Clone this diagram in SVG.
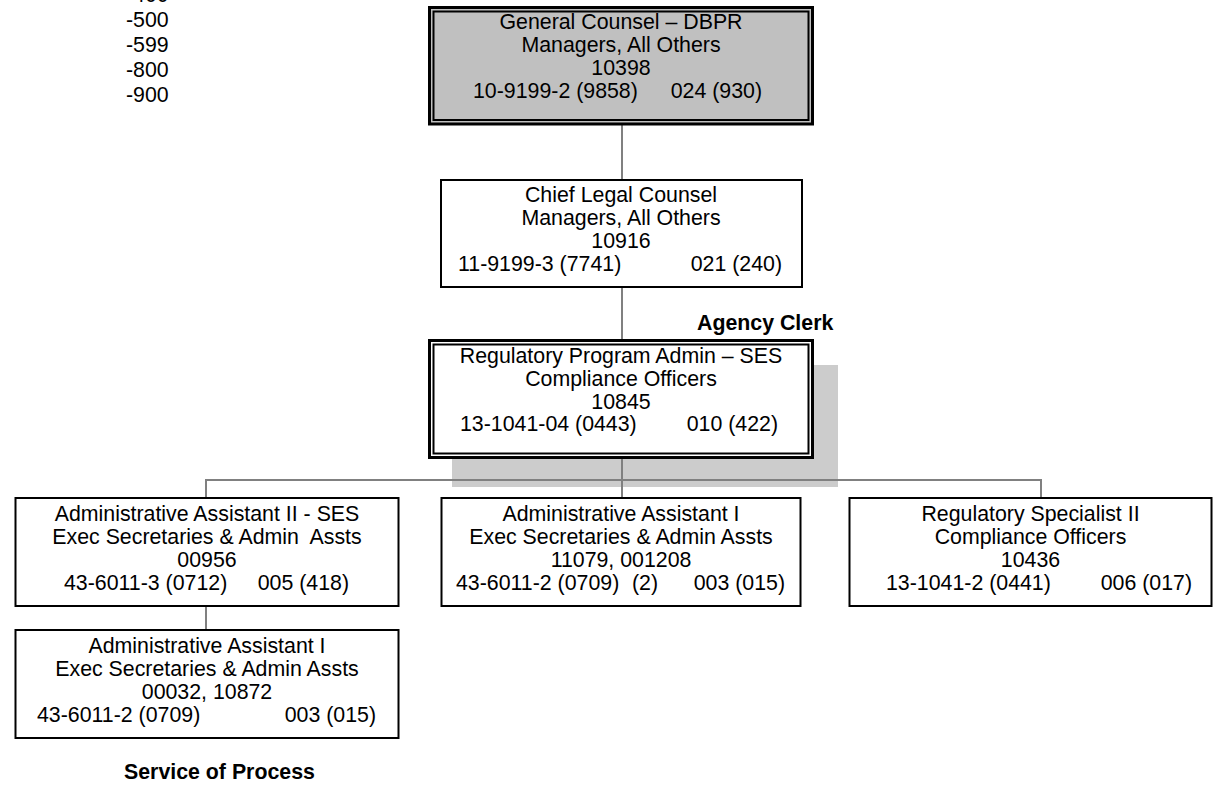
<svg xmlns="http://www.w3.org/2000/svg" width="1214" height="786" viewBox="0 0 1214 786">
<style>
.t{font-family:"Liberation Sans",Arial,sans-serif;font-size:21.33px;fill:#000;text-anchor:middle}
.s{text-anchor:start}
.e{text-anchor:end}
.b{font-weight:bold}
.box{fill:#fff;stroke:#000;stroke-width:2}
.conn{stroke:#808080;stroke-width:2;fill:none}
</style>
<rect width="1214" height="786" fill="#fff"/>
<g id="side-list">
<text class="t s" x="126" y="2">-400</text>
<text class="t s" x="126" y="26.5">-500</text>
<text class="t s" x="126" y="51.5">-599</text>
<text class="t s" x="126" y="76.5">-800</text>
<text class="t s" x="126" y="101.5">-900</text>
</g>
<rect id="reg-shadow" x="452" y="365" width="386" height="122" fill="#cccccc"/>
<g id="connectors">
<line class="conn" x1="622" y1="124" x2="622" y2="180"/>
<line class="conn" x1="622" y1="287" x2="622" y2="340"/>
<line class="conn" x1="622" y1="458" x2="622" y2="498"/>
<polyline class="conn" points="206,498 206,480 1041,480 1041,498"/>
<line class="conn" x1="206" y1="606" x2="206" y2="630"/>
</g>
<g id="general-counsel">
<rect x="429.5" y="7.5" width="383" height="116.5" fill="#c0c0c0" stroke="#000" stroke-width="3"/>
<rect x="433.5" y="11.5" width="375" height="108.5" fill="none" stroke="#000" stroke-width="2"/>
<text class="t" x="621" y="28.5">General Counsel – DBPR</text>
<text class="t" x="621" y="51.5">Managers, All Others</text>
<text class="t" x="621" y="74.5">10398</text>
<text class="t s" x="473" y="97.5">10-9199-2 (9858)</text>
<text class="t e" x="762" y="97.5">024 (930)</text>
</g>
<g id="chief-legal">
<rect class="box" x="441" y="180" width="361" height="107"/>
<text class="t" x="621" y="202">Chief Legal Counsel</text>
<text class="t" x="621" y="225">Managers, All Others</text>
<text class="t" x="621" y="248">10916</text>
<text class="t s" x="458" y="271">11-9199-3 (7741)</text>
<text class="t e" x="782" y="271">021 (240)</text>
</g>
<g id="agency-clerk">
<text class="t s b" x="697" y="330">Agency Clerk</text>
</g>
<g id="reg-program-admin">
<rect x="429.5" y="340.5" width="383" height="117" fill="#fff" stroke="#000" stroke-width="3"/>
<rect x="433.5" y="344.5" width="375" height="109" fill="none" stroke="#000" stroke-width="2"/>
<text class="t" x="621" y="362.5">Regulatory Program Admin – SES</text>
<text class="t" x="621" y="385.5">Compliance Officers</text>
<text class="t" x="621" y="408.5">10845</text>
<text class="t s" x="460" y="431">13-1041-04 (0443)</text>
<text class="t e" x="778" y="431">010 (422)</text>
</g>
<g id="admin-asst-ii">
<rect class="box" x="15.5" y="498" width="383" height="108"/>
<text class="t" x="207" y="521">Administrative Assistant II - SES</text>
<text class="t" x="207" y="544" xml:space="preserve">Exec Secretaries &amp; Admin  Assts</text>
<text class="t" x="207" y="567">00956</text>
<text class="t s" x="64" y="590">43-6011-3 (0712)</text>
<text class="t e" x="349" y="590">005 (418)</text>
</g>
<g id="admin-asst-i-mid">
<rect class="box" x="441.5" y="498" width="359" height="108"/>
<text class="t" x="621" y="521">Administrative Assistant I</text>
<text class="t" x="621" y="544">Exec Secretaries &amp; Admin Assts</text>
<text class="t" x="621" y="567">11079, 001208</text>
<text class="t s" x="456" y="590">43-6011-2 (0709)</text>
<text class="t s" x="632" y="590">(2)</text>
<text class="t e" x="785" y="590">003 (015)</text>
</g>
<g id="reg-specialist-ii">
<rect class="box" x="849.5" y="498" width="362" height="108"/>
<text class="t" x="1030.5" y="521">Regulatory Specialist II</text>
<text class="t" x="1030.5" y="544">Compliance Officers</text>
<text class="t" x="1030.5" y="567">10436</text>
<text class="t s" x="886" y="590">13-1041-2 (0441)</text>
<text class="t e" x="1192" y="590">006 (017)</text>
</g>
<g id="admin-asst-i-low">
<rect class="box" x="15.5" y="630" width="383" height="108"/>
<text class="t" x="207" y="653">Administrative Assistant I</text>
<text class="t" x="207" y="676">Exec Secretaries &amp; Admin Assts</text>
<text class="t" x="207" y="699">00032, 10872</text>
<text class="t s" x="37" y="722">43-6011-2 (0709)</text>
<text class="t e" x="376" y="722">003 (015)</text>
</g>
<g id="service-of-process">
<text class="t s b" x="124" y="779">Service of Process</text>
</g>
</svg>
